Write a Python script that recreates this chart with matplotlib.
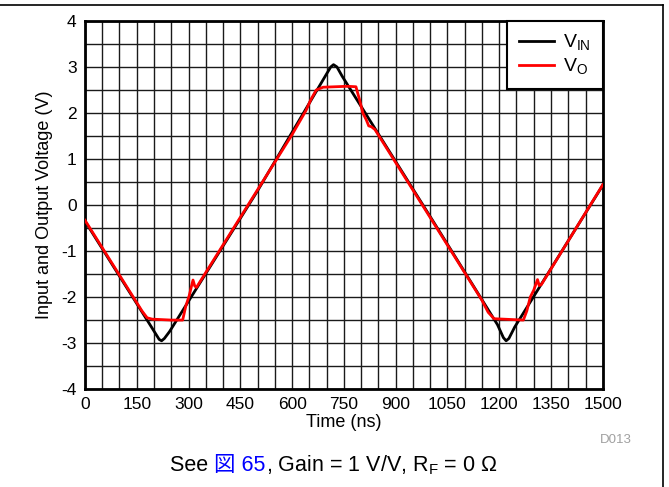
import matplotlib
matplotlib.use('Agg')
import matplotlib.pyplot as plt
from matplotlib.lines import Line2D

plt.rcParams['font.family'] = ['Liberation Sans', 'Noto Sans CJK JP', 'DejaVu Sans']
plt.rcParams['mathtext.fontset'] = 'custom'
plt.rcParams['mathtext.rm'] = 'Liberation Sans'
plt.rcParams['axes.unicode_minus'] = False

# input triangle wave (time ns, volts)
t_in = [0, 180, 205, 215, 222, 230, 245, 500, 700, 712, 720, 730, 745,
        1000, 1195, 1212, 1220, 1228, 1245, 1500]
v_in = [-0.35, -2.5, -2.8, -2.92, -2.95, -2.9, -2.75, 0.31, 2.85, 3.0, 3.05, 3.0, 2.8,
        -0.25, -2.6, -2.88, -2.95, -2.9, -2.65, 0.43]

# output, clipped
t_out = [0, 165, 180, 195, 250, 283, 292, 302, 308, 313, 318, 323, 600, 640, 655, 670,
         690, 760, 785, 795, 805, 815, 822, 830, 840, 1000, 1150, 1168, 1185, 1270,
         1280, 1290, 1300, 1311, 1316, 1322, 1500]
v_out = [-0.33, -2.3, -2.45, -2.48, -2.5, -2.5, -2.2, -1.97, -1.78, -1.63, -1.76, -1.79,
         1.53, 2.05, 2.3, 2.5, 2.56, 2.58, 2.57, 2.3, 2.0, 1.85, 1.72, 1.7, 1.64,
         -0.27, -2.07, -2.33, -2.47, -2.5, -2.3, -2.0, -1.85, -1.62, -1.75, -1.73, 0.44]

x_ticks = [0, 150, 300, 450, 600, 750, 900, 1050, 1200, 1350, 1500]
y_ticks = [-4, -3, -2, -1, 0, 1, 2, 3, 4]

fig = plt.figure(figsize=(6.69, 4.87), dpi=100)
ax = fig.add_axes([0.127, 0.201, 0.774, 0.756])

ax.plot(t_in, v_in, color='black', lw=2, label='V$_\\mathregular{IN}$', zorder=3)
ax.plot(t_out, v_out, color='red', lw=2, label='V$_\\mathregular{O}$', zorder=4)

ax.set_xlim(0, 1500)
ax.set_ylim(-4, 4)
ax.set_xticks(x_ticks)
ax.set_yticks(y_ticks)
ax.set_xticks(range(0, 1501, 50), minor=True)
ax.set_yticks([v / 2 for v in range(-8, 9)], minor=True)
ax.grid(which='both', color='#1a1a1a', lw=1.0)
ax.tick_params(which='both', length=0, labelsize=12.5, pad=6)
for s in ax.spines.values():
    s.set_linewidth(2)

ax.set_xlabel('Time (ns)', fontsize=13, labelpad=1)
ax.set_ylabel('Input and Output Voltage (V)', fontsize=13, labelpad=6)

leg = ax.legend(loc='upper right', fontsize=14, fancybox=False, framealpha=1,
                edgecolor='black', handlelength=1.8, borderaxespad=0,
                borderpad=0.6, labelspacing=0.2, handletextpad=0.5)
leg.get_frame().set_linewidth(1.5)

fig.text(0.945, 0.097, 'D013', ha='right', va='center', fontsize=9.5, color='#a0a0a0')

# frame lines of the page
fig.add_artist(Line2D([0, 0.991], [0.99, 0.99], color='black', lw=1.2))
fig.add_artist(Line2D([0.991, 0.991], [0, 0.99], color='black', lw=1.2))

# caption with blue link text
parts = [('See ', 'black'), ('図 65', '#0000ff'),
         (', Gain = 1 V/V, R$_\\mathregular{F}$ = 0 Ω', 'black')]
fig.canvas.draw()
r = fig.canvas.get_renderer()
x = 170 / 669
for txt, col in parts:
    t = fig.text(x, 0.045, txt, ha='left', va='center', fontsize=15.5, color=col)
    bb = t.get_window_extent(r)
    x += bb.width / fig.bbox.width

fig.savefig('out.png', dpi=100)
